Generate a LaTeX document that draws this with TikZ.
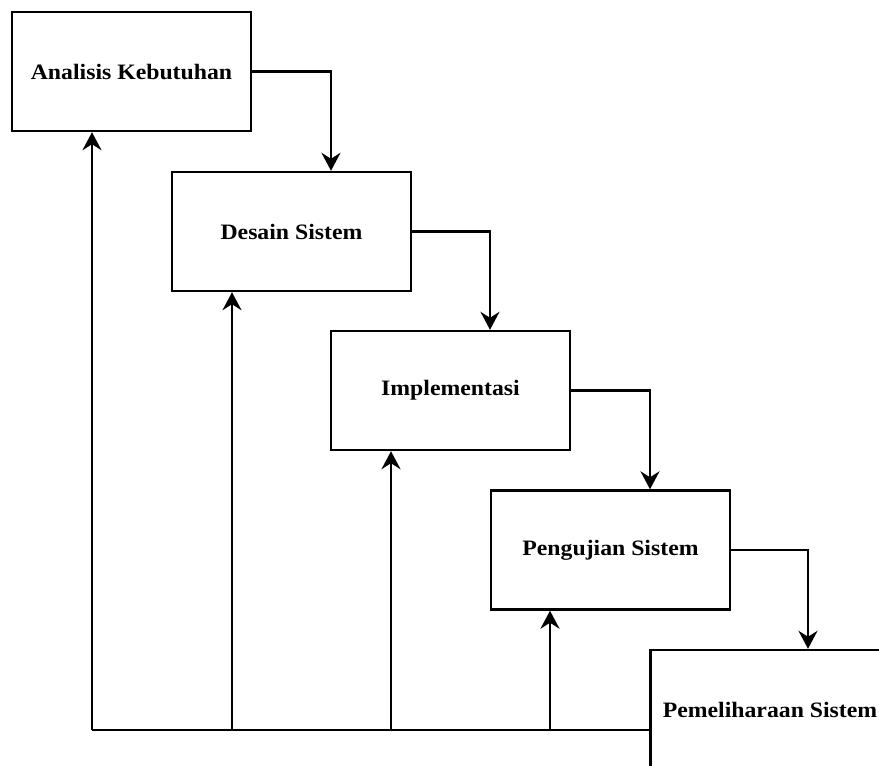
\documentclass[tikz,border=0pt]{standalone}
\usepackage{fontspec}
\setmainfont{Liberation Serif}[FakeStretch=1.08]
\usetikzlibrary{arrows.meta}
\begin{document}
\begin{tikzpicture}[x=1pt,y=-1pt,
  phase/.style={draw=black, line width=2.4pt, fill=white, minimum width=239pt,
    minimum height=119pt, inner sep=0pt, font=\fontsize{22}{26}\selectfont\bfseries},
  flow/.style={draw=black, line width=2.4pt, -{Stealth[length=18pt,width=19pt,inset=6pt]}},
  link/.style={draw=black, line width=2.4pt}]
  \clip (0,0) rectangle (879,766);
  \fill[white] (0,0) rectangle (879,766);

  % the five phases, stepping down to the right
  \node[phase] (ana) at (131.5,71.5)  {Analisis Kebutuhan};
  \node[phase] (des) at (291.5,231.5) {Desain Sistem};
  \node[phase] (imp) at (450.5,390.5) {Implementasi};
  \node[phase] (uji) at (610.5,550)   {Pengujian Sistem};
  \node[phase] (pem) at (770,709.5)   {Pemeliharaan Sistem};

  % forward flow between consecutive phases
  \draw[flow] (ana.east) -| (des.north -| 331,0);
  \draw[flow] (des.east) -| (imp.north -| 490,0);
  \draw[flow] (imp.east) -| (uji.north -| 650,0);
  \draw[flow] (uji.east) -| (pem.north -| 808,0);

  % feedback bus from maintenance back to every earlier phase
  \coordinate (bus) at (pem.west |- 0,730);
  \draw[link] (bus) -- (92,730);
  \draw[flow] (92,730) -- (ana.south -| 92,0);
  \draw[flow] (232,730) -- (des.south -| 232,0);
  \draw[flow] (391,730) -- (imp.south -| 391,0);
  \draw[flow] (550,730) -- (uji.south -| 550,0);
\end{tikzpicture}
\end{document}
